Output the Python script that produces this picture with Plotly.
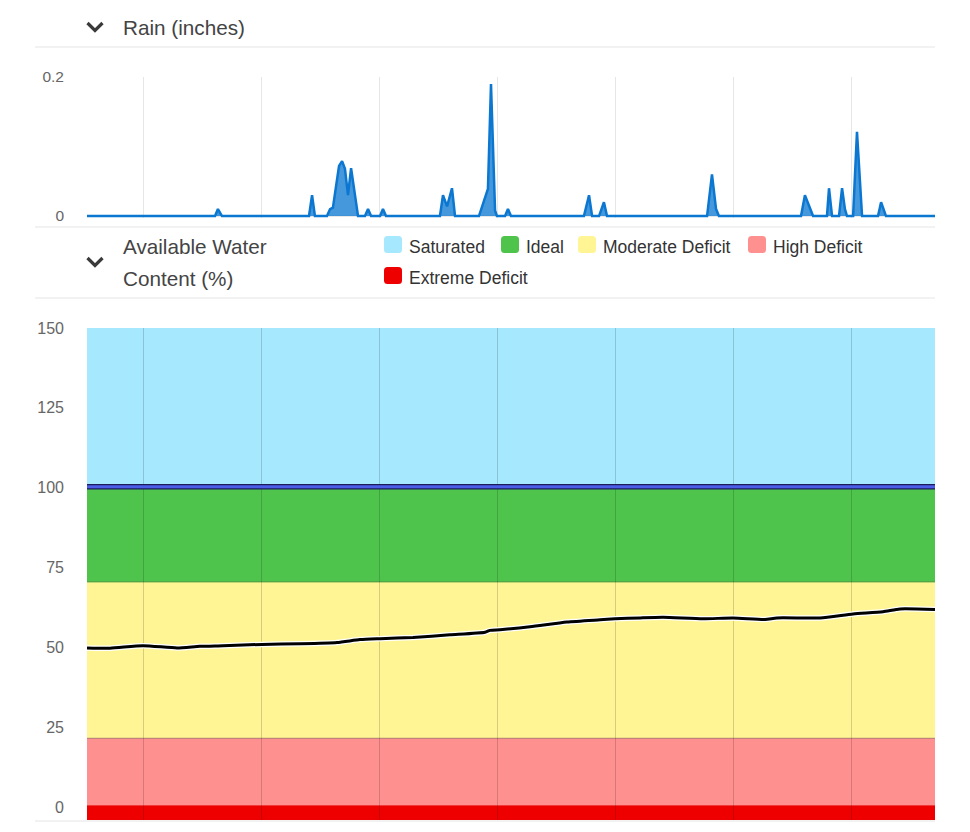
import plotly.graph_objects as go

# ---------------- data ----------------
rain_days = [0, 7.55, 7.72, 7.96, 13.09, 13.27, 13.44,
             14.15, 14.33, 14.50, 14.86, 15.04, 15.21, 15.39, 15.57, 15.98,
             16.39, 16.57, 16.75, 17.28, 17.45, 17.63,
             20.81, 20.99, 21.23, 21.52, 21.70,
             23.11, 23.64, 23.82, 24.06, 24.17, 24.65, 24.82, 25.00,
             29.30, 29.60, 29.78, 30.19, 30.48, 30.66,
             36.56, 36.85, 37.09, 37.26,
             42.10, 42.33, 42.81, 43.63, 43.75, 43.93,
             44.34, 44.52, 44.69, 44.81, 45.17, 45.40, 45.70,
             46.64, 46.82, 47.11, 50.0]
rain_in = [0, 0, 0.010, 0, 0, 0.030, 0,
           0, 0.010, 0.012, 0.072, 0.079, 0.068, 0.030, 0.069, 0,
           0, 0.010, 0, 0, 0.010, 0,
           0, 0.030, 0.014, 0.040, 0,
           0, 0.039, 0.190, 0.008, 0, 0, 0.010, 0,
           0, 0.030, 0, 0, 0.020, 0,
           0, 0.060, 0.010, 0,
           0, 0.030, 0, 0, 0.040, 0,
           0, 0.040, 0.010, 0, 0, 0.121, 0,
           0, 0.020, 0, 0]

awc_days = [0, 1.36, 3.30, 5.31, 6.66, 8.02, 10.32, 12.56, 14.74, 16.10, 17.28,
            19.22, 21.40, 23.47, 23.76, 24.35, 26.12, 28.30, 30.25, 31.13, 32.61,
            33.96, 36.32, 38.09, 39.98, 40.68, 43.22, 45.17, 46.93, 47.94, 50.0]
awc_pct = [49.8, 49.7, 50.5, 49.8, 50.3, 50.5, 50.9, 51.1, 51.5, 52.4, 52.7,
           53.1, 53.9, 54.7, 55.3, 55.5, 56.4, 57.9, 58.6, 58.9, 59.2,
           59.4, 58.9, 59.2, 58.7, 59.2, 59.2, 60.4, 61.1, 62.0, 61.8]

fc_days = [0, 50.0]
fc_pct = [100.3, 100.3]

band_names = ["Saturated", "Ideal", "Moderate Deficit", "High Deficit", "Extreme Deficit"]
band_low = [100, 70.5, 21.5, 0.5, -4.1]
band_high = [150, 100, 70.5, 21.5, 0.5]
band_colors = ["#a6e8fe", "#4ec44c", "#fff594", "#ff9090", "#ee0000"]

rain_ticks = [0, 0.2]
awc_ticks = [0, 25, 50, 75, 100, 125, 150]

# ---------------- layout helpers ----------------
W, H = 970, 832
def PX(x):
    return x / W
def PY(y):
    return 1 - y / H

FONT = "Liberation Sans, Arial, sans-serif"

fig = go.Figure()

fig.add_trace(go.Scatter(
    x=rain_days, y=rain_in, mode="lines", xaxis="x", yaxis="y",
    line=dict(color="#0b77d1", width=2.5), fill="tozeroy",
    fillcolor="rgba(11,119,209,0.76)", showlegend=False, hoverinfo="skip"))

fig.add_trace(go.Scatter(
    x=fc_days, y=fc_pct, mode="lines", xaxis="x2", yaxis="y2",
    line=dict(color="#1c1c5c", width=5.5), showlegend=False, hoverinfo="skip"))
fig.add_trace(go.Scatter(
    x=fc_days, y=fc_pct, mode="lines", xaxis="x2", yaxis="y2",
    line=dict(color="#4b5ce6", width=3), showlegend=False, hoverinfo="skip"))

fig.add_trace(go.Scatter(
    x=awc_days, y=awc_pct, mode="lines", xaxis="x2", yaxis="y2",
    line=dict(color="white", width=5.5, shape="spline", smoothing=0.6),
    showlegend=False, hoverinfo="skip"))
fig.add_trace(go.Scatter(
    x=awc_days, y=awc_pct, mode="lines", xaxis="x2", yaxis="y2",
    line=dict(color="black", width=3, shape="spline", smoothing=0.6),
    showlegend=False, hoverinfo="skip"))

shapes = []
for lo, hi, col in zip(band_low, band_high, band_colors):
    shapes.append(dict(type="rect", xref="x2 domain", yref="y2", x0=0, x1=1,
                       y0=lo, y1=hi, fillcolor=col, line=dict(width=0), layer="below"))
shapes.append(dict(type="line", xref="x2 domain", yref="y2", x0=0, x1=1,
                   y0=band_low[1], y1=band_low[1], line=dict(color="#2f8f2f", width=1), layer="below"))
shapes.append(dict(type="line", xref="x2 domain", yref="y2", x0=0, x1=1,
                   y0=band_low[2], y1=band_low[2], line=dict(color="rgba(110,70,70,0.55)", width=1), layer="below"))

for y in [47, 227, 298, 821]:
    shapes.append(dict(type="line", xref="paper", yref="paper", x0=PX(35), x1=PX(935),
                       y0=PY(y), y1=PY(y), line=dict(color="#e6e6e6", width=1.2)))

def chevron(cx, cy):
    return dict(type="path", xref="paper", yref="paper",
                path=f"M {PX(cx-7.5)} {PY(cy-4)} L {PX(cx)} {PY(cy+3.5)} L {PX(cx+7.5)} {PY(cy-4)}",
                line=dict(color="#3a3a3a", width=3.2))
shapes.append(chevron(95, 27))
shapes.append(chevron(95, 262))

HFONT = dict(family=FONT, size=20.7, color="#444")
annotations = [
    dict(text="Rain (inches)", x=PX(121), y=PY(27.5), xref="paper", yref="paper",
         xanchor="left", yanchor="middle", showarrow=False, font=HFONT),
    dict(text="Available Water", x=PX(121), y=PY(246.5), xref="paper", yref="paper",
         xanchor="left", yanchor="middle", showarrow=False, font=HFONT),
    dict(text="Content (%)", x=PX(121), y=PY(278.5), xref="paper", yref="paper",
         xanchor="left", yanchor="middle", showarrow=False, font=HFONT),
]

leg_x = [384, 501, 578, 748, 384]
leg_y = [244.5, 244.5, 244.5, 244.5, 275.5]
for name, col, lx, ly in zip(band_names, band_colors, leg_x, leg_y):
    x0, x1, y0, y1, r = lx, lx + 18, ly - 8.5, ly + 8.5, 3.5
    p = (f"M {PX(x0+r)} {PY(y0)} L {PX(x1-r)} {PY(y0)} Q {PX(x1)} {PY(y0)} {PX(x1)} {PY(y0+r)} "
         f"L {PX(x1)} {PY(y1-r)} Q {PX(x1)} {PY(y1)} {PX(x1-r)} {PY(y1)} "
         f"L {PX(x0+r)} {PY(y1)} Q {PX(x0)} {PY(y1)} {PX(x0)} {PY(y1-r)} "
         f"L {PX(x0)} {PY(y0+r)} Q {PX(x0)} {PY(y0)} {PX(x0+r)} {PY(y0)} Z")
    shapes.append(dict(type="path", xref="paper", yref="paper", path=p,
                       fillcolor=col, line=dict(width=0)))
    annotations.append(dict(text=name, x=PX(lx + 22.5), y=PY(ly + 2.5), xref="paper", yref="paper",
                            xanchor="left", yanchor="middle", showarrow=False,
                            font=dict(family=FONT, size=17.5, color="#333")))

common_x = dict(range=[0, 50], tick0=3.36, dtick=6.95, showticklabels=False,
                zeroline=False, showline=False, ticks="", fixedrange=True, automargin=False)

fig.update_layout(
    width=W, height=H, margin=dict(l=0, r=0, t=0, b=0, pad=0, autoexpand=False),
    paper_bgcolor="white", plot_bgcolor="white",
    font=dict(family=FONT, color="#666"),
    xaxis=dict(domain=[PX(87), PX(935)], anchor="y", showgrid=True,
               gridcolor="#e6e6e6", gridwidth=1, **common_x),
    yaxis=dict(domain=[PY(218), PY(77)], anchor="x", range=[-0.0028, 0.2],
               tickvals=rain_ticks, ticktext=["0", "0.2"], showgrid=True,
               gridcolor="#e8e8e8", gridwidth=1.5, zeroline=False, ticks="", automargin=False,
               ticklabelstandoff=22, tickfont=dict(size=15.5, color="#666")),
    xaxis2=dict(domain=[PX(87), PX(935)], anchor="y2", showgrid=True,
                gridcolor="rgba(0,0,0,0.16)", gridwidth=1, **common_x),
    yaxis2=dict(domain=[PY(820), PY(328)], anchor="x2", range=[-4.1, 150],
                tickvals=awc_ticks, showgrid=False, zeroline=False, ticks="", automargin=False,
                ticklabelstandoff=22, tickfont=dict(size=16, color="#666")),
    shapes=shapes, annotations=annotations, showlegend=False,
)

fig.write_html("out.html", config={"displayModeBar": False},
               post_script="document.body.style.margin='0';document.body.style.overflow='hidden';")
